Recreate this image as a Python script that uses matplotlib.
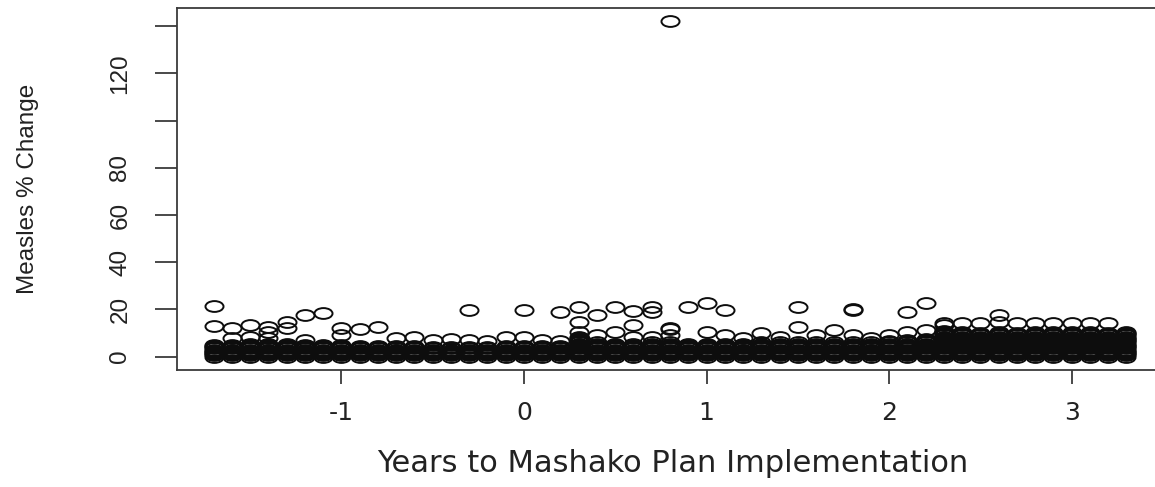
import numpy as np
import matplotlib
matplotlib.use("Agg")
import matplotlib.pyplot as plt
from matplotlib.path import Path

# Months (in years) relative to the Mashako Plan start
years = [-1.7, -1.6, -1.5, -1.4, -1.3, -1.2, -1.1, -1.0, -0.9, -0.8,
         -0.7, -0.6, -0.5, -0.4, -0.3, -0.2, -0.1, 0.0, 0.1, 0.2,
         0.3, 0.4, 0.5, 0.6, 0.7, 0.8, 0.9, 1.0, 1.1, 1.2,
         1.3, 1.4, 1.5, 1.6, 1.7, 1.8, 1.9, 2.0, 2.1, 2.2,
         2.3, 2.4, 2.5, 2.6, 2.7, 2.8, 2.9, 3.0, 3.1, 3.2, 3.3]

# Upper edge of the dense cluster of zone reports in each month (% change)
cluster_top = [5, 5, 5.5, 5.5, 5.5, 5, 5, 5, 4.5, 4.5,
               4.5, 4.5, 4, 4, 4, 4, 4.5, 4.5, 4.5, 4.5,
               8.5, 6, 5.5, 5.5, 6, 6, 5.5, 5.5, 5.5, 5.5,
               6, 6, 6, 6, 6, 6, 6, 6.5, 7, 7.5,
               11, 10, 10, 10.5, 10, 10.5, 10.5, 10.5, 10.5, 10, 10.5]

# Isolated reports above the cluster
high_x = [-1.7, -1.7, -1.6, -1.6, -1.5, -1.5, -1.4, -1.4, -1.4, -1.3,
          -1.3, -1.2, -1.2, -1.1, -1.0, -1.0, -0.9, -0.8, -0.7, -0.6,
          -0.5, -0.4, -0.3, -0.3, -0.2, -0.1, 0.0, 0.0, 0.1, 0.2,
          0.2, 0.3, 0.3, 0.3, 0.4, 0.4, 0.5, 0.5, 0.6, 0.6,
          0.6, 0.7, 0.7, 0.7, 0.8, 0.8, 0.8, 0.8, 0.9, 1.0,
          1.0, 1.1, 1.1, 1.2, 1.3, 1.4, 1.5, 1.5, 1.6, 1.7,
          1.8, 1.8, 1.8, 1.9, 2.0, 2.1, 2.1, 2.2, 2.2, 2.3,
          2.3, 2.4, 2.4, 2.5, 2.6, 2.6, 2.7, 2.8, 2.9, 3.0,
          3.1, 3.2]
high_y = [21.3, 13.1, 12.3, 8.0, 13.5, 8.5, 12.7, 10.6, 8.0, 14.8,
          12.3, 17.8, 7.2, 18.6, 12.3, 9.3, 11.9, 12.7, 8.0, 8.5,
          7.2, 7.6, 19.9, 7.0, 6.4, 8.5, 19.9, 8.5, 7.2, 19.1,
          6.4, 20.8, 14.8, 10.6, 17.8, 9.0, 20.8, 10.6, 19.5, 13.5,
          8.5, 21.2, 19.1, 8.5, 142.0, 12.3, 11.5, 9.0, 21.2, 22.5,
          10.6, 19.9, 9.3, 8.0, 10.2, 8.5, 21.2, 12.7, 9.3, 11.4,
          19.9, 20.3, 9.3, 8.0, 9.3, 19.1, 10.6, 22.5, 11.4, 14.4,
          13.5, 14.4, 10.6, 14.4, 17.8, 14.8, 14.4, 14.4, 14.4, 14.4,
          14.4, 14.4]

x_ticks = [-1, 0, 1, 2, 3]
y_ticks = [0, 20, 40, 60, 80, 100, 120, 140]
y_tick_labels = ["0", "20", "40", "60", "80", "", "120", ""]

vert_font = "Liberation Sans"
vert_size = 17.5
horiz_font = "DejaVu Sans"
text_color = "#222222"

# Expand each month's cluster into individual reports
pts_x, pts_y = [], []
for yr, top in zip(years, cluster_top):
    vals = np.arange(0.0, top + 1e-9, 0.5)
    pts_x.extend([yr] * len(vals))
    pts_y.extend(vals)
pts_x.extend(high_x)
pts_y.extend(high_y)

# Open oval marker
circ = Path.unit_circle()
oval = Path(circ.vertices * np.array([1.0, 0.6]), circ.codes)

W, H = 1155, 487
fig = plt.figure(figsize=(W / 100, H / 100), dpi=100)
fig.patch.set_facecolor("white")
ax = fig.add_axes([177 / W, 1 - 370 / H, 986 / W, 362 / H])

ax.plot(pts_x, pts_y, linestyle="none", marker=oval, markersize=13,
        markerfacecolor="none", markeredgecolor="#0d0d0d", markeredgewidth=1.4,
        clip_on=False)

ax.set_xlim(-1.9, 3.5)
ax.set_ylim(-5.68, 147.68)

for sp in ax.spines.values():
    sp.set_color("#3a3a3a")
    sp.set_linewidth(1.3)

ax.set_xticks(x_ticks)
ax.set_xticklabels([str(v) for v in x_ticks], fontfamily=horiz_font,
                   fontsize=18, color=text_color)
ax.set_yticks(y_ticks)
ax.set_yticklabels(y_tick_labels, fontfamily=vert_font, fontsize=vert_size,
                   color=text_color, rotation=90, va="center")

ax.tick_params(axis="x", direction="out", length=10, width=1.3,
               color="#3a3a3a", pad=12)
ax.tick_params(axis="y", direction="out", length=15.8, width=1.3,
               color="#3a3a3a", pad=17)

ax.set_xlabel("Years to Mashako Plan Implementation", fontfamily=horiz_font,
              fontsize=22, color=text_color)
ax.xaxis.set_label_coords((673 - 177) / 986, (370 - 464) / 362)
ax.xaxis.label.set_va("center")

ax.set_ylabel("Measles % Change", fontfamily=vert_font, fontsize=vert_size,
              color=text_color)
ax.yaxis.set_label_coords((28 - 177) / 986, 0.5)
ax.yaxis.label.set_va("center")

fig.savefig("out.png", dpi=100, facecolor="white")
